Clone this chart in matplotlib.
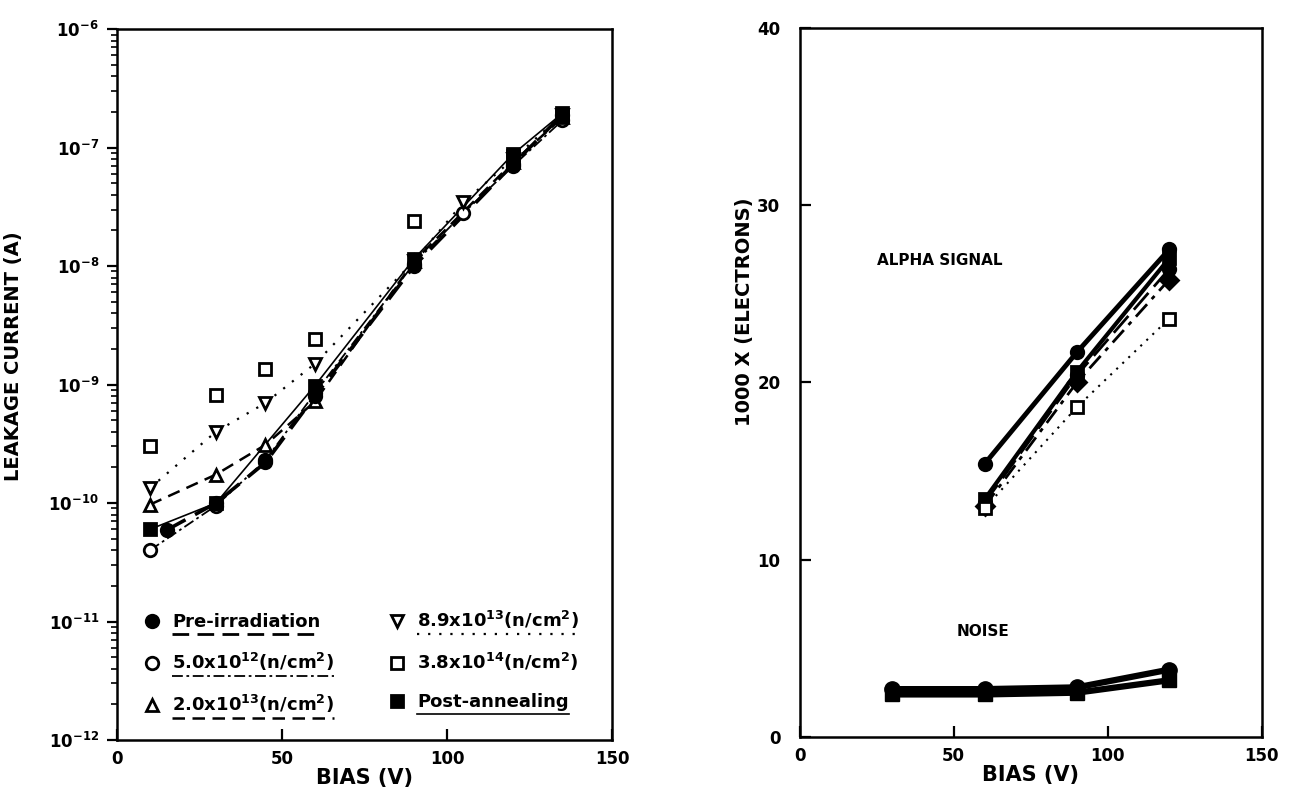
import matplotlib
matplotlib.use("Agg")
import matplotlib.pyplot as plt
from matplotlib.lines import Line2D
from matplotlib.ticker import LogLocator, NullFormatter, FixedLocator

plt.rcParams['font.family'] = ['DejaVu Sans']
plt.rcParams['font.weight'] = 'bold'
plt.rcParams['mathtext.default'] = 'bf'
plt.rcParams['axes.linewidth'] = 1.8

# leakage current vs bias, one list pair per fluence
pre_v = [15, 30, 45, 60, 90, 120, 135]
pre_i = [5.9e-11, 1.0e-10, 2.2e-10, 8.0e-10, 1.0e-8, 7.2e-8, 1.9e-7]

f12_v = [10, 30, 45, 60, 90, 105, 120, 135]
f12_i = [4.0e-11, 9.5e-11, 2.3e-10, 8.5e-10, 1.05e-8, 2.8e-8, 7.0e-8, 1.7e-7]

f13_v = [10, 30, 45, 60, 90, 120, 135]
f13_i = [9.7e-11, 1.74e-10, 3.1e-10, 7.2e-10, 1.1e-8, 7.5e-8, 1.8e-7]

f89_v = [10, 30, 45, 60, 90, 105, 120, 135]
f89_i = [1.34e-10, 4.0e-10, 7.0e-10, 1.5e-9, 1.1e-8, 3.45e-8, 8.0e-8, 1.9e-7]

f14_v = [10, 30, 45, 60, 90, 120, 135]
f14_i = [3.0e-10, 8.2e-10, 1.35e-9, 2.4e-9, 2.4e-8, 8.5e-8, 1.9e-7]

post_v = [10, 30, 60, 90, 120, 135]
post_i = [6.0e-11, 1.0e-10, 9.8e-10, 1.15e-8, 8.8e-8, 1.95e-7]

labels = ['Pre-irradiation',
          r'5.0x10$^{12}$(n/cm$^{2}$)',
          r'2.0x10$^{13}$(n/cm$^{2}$)',
          r'8.9x10$^{13}$(n/cm$^{2}$)',
          r'3.8x10$^{14}$(n/cm$^{2}$)',
          'Post-annealing']

decades = [1e-12, 1e-11, 1e-10, 1e-9, 1e-8, 1e-7, 1e-6]

# signal and noise (units of 1000 electrons)
sig_v = [60, 90, 120]
sig_a = [15.4, 21.7, 27.5]
sig_b = [13.4, 20.6, 27.0]
sig_c = [13.2, 20.4, 26.4]
sig_d = [13.0, 20.0, 25.8]
sig_e = [12.9, 18.6, 23.6]

noise_v = [30, 60, 90, 120]
noise_hi = [2.7, 2.7, 2.8, 3.8]
noise_lo = [2.4, 2.4, 2.5, 3.2]

fig = plt.figure(figsize=(12.9, 8.06), dpi=100)
ax1 = fig.add_axes([0.0907, 0.0819, 0.3837, 0.882])
ax2 = fig.add_axes([0.620, 0.0856, 0.358, 0.880])

k = 'black'
styles = [
    dict(marker='o', mfc=k, ls=(0, (6, 3)), lw=2.6),
    dict(marker='o', mfc='white', ls=(0, (6, 2, 1.5, 2)), lw=1.3),
    dict(marker='^', mfc='white', ls=(0, (5, 3)), lw=1.8),
    dict(marker='v', mfc='white', ls=(0, (1, 4)), lw=1.6),
    dict(marker='s', mfc='white', ls='none', lw=0),
    dict(marker='s', mfc=k, ls='-', lw=1.2),
]
series = [(pre_v, pre_i), (f12_v, f12_i), (f13_v, f13_i),
          (f89_v, f89_i), (f14_v, f14_i), (post_v, post_i)]
order = [1, 2, 3, 4, 5, 0]
handles = [None] * 6
for n in order:
    v, i = series[n]
    st = styles[n]
    ax1.plot(v, i, color=k, ls=st['ls'], lw=st['lw'], zorder=2)
    ax1.plot(v, i, ls='none', marker=st['marker'], ms=9, mfc=st['mfc'],
             mec=k, mew=2, zorder=3)
    handles[n] = Line2D([], [], ls='none', marker=st['marker'], ms=9,
                        mfc=st['mfc'], mec=k, mew=2)

ax1.set_yscale('log')
ax1.set_xlim(0, 150)
ax1.set_ylim(1e-12, 1e-6)
ax1.set_xticks([0, 50, 100, 150])
ax1.yaxis.set_major_locator(FixedLocator(decades))
ax1.yaxis.set_minor_locator(LogLocator(base=10, subs=range(2, 10), numticks=100))
ax1.yaxis.set_minor_formatter(NullFormatter())
ax1.tick_params(axis='x', direction='in', length=8, width=1.6, labelsize=12, pad=7)
ax1.tick_params(axis='y', which='major', direction='out', length=7, width=1.6,
                labelsize=12, pad=6)
ax1.tick_params(axis='y', which='minor', direction='out', length=4, width=1.2)
ax1.set_xlabel('BIAS (V)', fontsize=15, fontweight='bold', labelpad=0)
ax1.set_ylabel('LEAKAGE CURRENT (A)', fontsize=14, fontweight='bold')
ax1.yaxis.set_label_coords(-0.19, 0.54)

leg = ax1.legend(handles, labels, ncol=2, loc='lower left',
                 bbox_to_anchor=(0.02, 0.012), frameon=False, fontsize=13,
                 handletextpad=0.6, columnspacing=3.0, labelspacing=1.1,
                 handlelength=1.0)

# alpha signal and noise
sig_styles = [
    (sig_a, 'o', k, '-', 3.5),
    (sig_b, 's', k, '-', 3.0),
    (sig_c, 'o', k, (0, (8, 3)), 2.0),
    (sig_d, 'D', k, (0, (6, 2.5, 1.5, 2.5)), 2.0),
    (sig_e, 's', 'white', (0, (1, 3)), 1.5),
]
for y, m, fc, ls, lw in sig_styles:
    ax2.plot(sig_v, y, color=k, ls=ls, lw=lw, marker=m, ms=9, mfc=fc,
             mec=k, mew=2)

ax2.plot(noise_v, noise_hi, color=k, lw=4.5, marker='o', ms=11)
ax2.plot(noise_v, noise_lo, color=k, lw=4.5, marker='s', ms=10)

ax2.text(25, 26.6, 'ALPHA SIGNAL', fontsize=11, fontweight='bold')
ax2.text(51, 5.7, 'NOISE', fontsize=11, fontweight='bold')

ax2.set_xlim(0, 150)
ax2.set_ylim(0, 40)
ax2.set_xticks([0, 50, 100, 150])
ax2.set_yticks([0, 10, 20, 30, 40])
ax2.tick_params(direction='in', length=8, width=1.6, labelsize=12)
ax2.tick_params(axis='x', pad=7)
ax2.tick_params(axis='y', pad=14)
ax2.set_xlabel('BIAS (V)', fontsize=15, fontweight='bold', labelpad=0)
ax2.set_ylabel('1000 X (ELECTRONS)', fontsize=14, fontweight='bold')
ax2.yaxis.set_label_coords(-0.10, 0.60)

# underline each legend entry with its line style
fig.canvas.draw()
rend = fig.canvas.get_renderer()
inv = fig.transFigure.inverted()
for txt, st in zip(leg.get_texts(), styles):
    if st['ls'] == 'none':
        continue
    bb = txt.get_window_extent(rend)
    (x0, y0), (x1, _) = inv.transform([(bb.x0, bb.y0 - 3), (bb.x1, bb.y0)])
    fig.add_artist(Line2D([x0, x1], [y0, y0], transform=fig.transFigure,
                          color=k, ls=st['ls'], lw=min(st['lw'], 2.0)))

fig.savefig('out.png', dpi=100)
